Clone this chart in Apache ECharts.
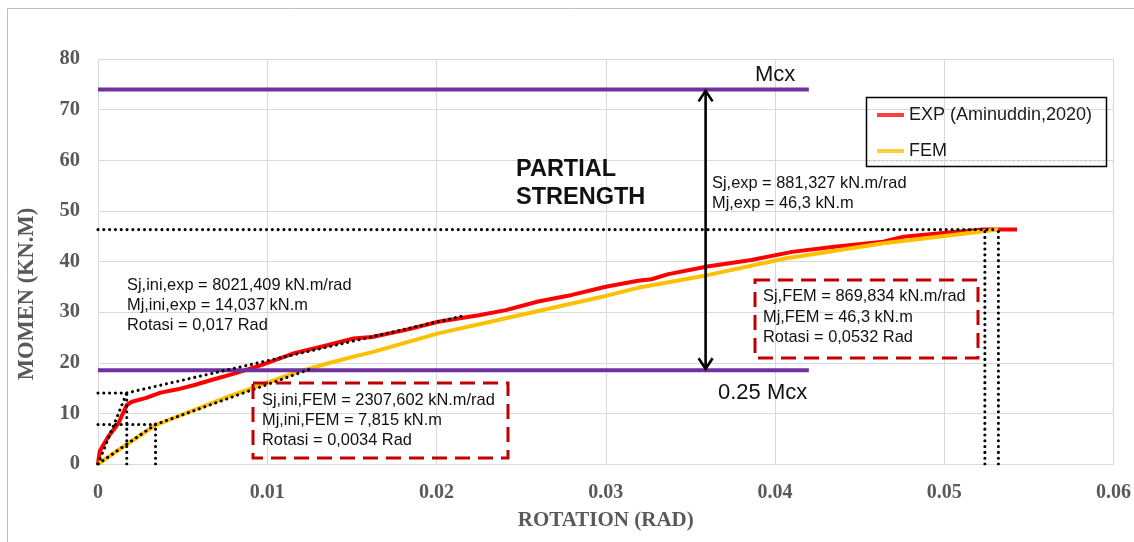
<!DOCTYPE html>
<html><head><meta charset="utf-8">
<script src="https://cdn.jsdelivr.net/npm/echarts@6/dist/echarts.min.js"></script>
<style>html,body{margin:0;padding:0;background:#fff}#c{width:1134px;height:542px}</style>
</head><body><div id="c"></div>
<script>
// ---- data ----
const expRot = [0, 0.0001, 0.0006, 0.0012, 0.0015, 0.0017, 0.002, 0.0028, 0.0037, 0.0047, 0.0057, 0.0067, 0.0081, 0.0096, 0.0116, 0.0136, 0.0151, 0.0162, 0.0182, 0.0201, 0.0225, 0.0241, 0.026, 0.028, 0.03, 0.0319, 0.0327, 0.0337, 0.036, 0.0386, 0.041, 0.0435, 0.0464, 0.0476, 0.0504, 0.0523, 0.0543];
const expMom = [0, 2.5, 5.4, 8.0, 10.2, 11.65, 12.3, 13.0, 14.1, 14.75, 15.6, 16.6, 17.9, 19.5, 21.9, 23.5, 24.8, 25.1, 26.5, 28.1, 29.4, 30.4, 32.1, 33.4, 35.0, 36.2, 36.5, 37.5, 39.0, 40.3, 41.9, 42.9, 43.9, 44.9, 45.8, 46.3, 46.3];
const femRot = [0, 0.0018, 0.0034, 0.0057, 0.0077, 0.0096, 0.0116, 0.0136, 0.0151, 0.0162, 0.0201, 0.0241, 0.028, 0.03, 0.0319, 0.036, 0.0406, 0.0464, 0.0504, 0.0532];
const femMom = [0, 4.1, 7.7, 10.67, 13.3, 15.6, 18.0, 19.9, 21.2, 22.1, 25.8, 28.8, 31.7, 33.2, 34.8, 37.3, 40.6, 43.6, 45.2, 46.3];
const mcxValue = 74;
const mcxQuarter = 18.5;
const mcxEndRot = 0.042;
const arrowRot = 0.0359;
// guide (dotted) lines: [rot1, mom1, rot2, mom2]
const guideLines = [
  [0, 46.3, 0.0532, 46.3],
  [0.0524, 0, 0.0524, 46.3],
  [0.0532, 0, 0.0532, 46.3],
  [0, 14.037, 0.0017, 14.037],
  [0.0017, 0, 0.0017, 14.037],
  [0, 7.815, 0.0034, 7.815],
  [0.0034, 0, 0.0034, 7.815],
  [0, 0, 0.0017, 14.037],
  [0.0017, 14.037, 0.0215, 29.2],
  [0, 0, 0.0034, 7.815],
  [0.0034, 7.815, 0.0125, 18.7]
];
const xTickLabels = ['0', '0.01', '0.02', '0.03', '0.04', '0.05', '0.06'];
const yTickLabels = ['0', '10', '20', '30', '40', '50', '60', '70', '80'];
const seriesNames = ['EXP (Aminuddin,2020)', 'FEM'];

const zip = (a, b) => a.map((v, i) => [v, b[i]]);
const SANS = 'Liberation Sans, Arial, sans-serif';
const SERIF = 'Liberation Serif, Times New Roman, serif';

const guideSeries = guideLines.map(g => ({
  type: 'line', silent: true, symbol: 'none', z: 5,
  data: [[g[0], g[1]], [g[2], g[3]]],
  lineStyle: { color: '#000', width: 3.1, type: [0.01, 5.8], cap: 'round' },
  tooltip: { show: false }
}));

function txt(text, x, y, size, opts) {
  return Object.assign({
    type: 'text', z: 50,
    style: { text: text, x: x, y: y, font: (opts && opts.weight ? opts.weight + ' ' : '') + size + 'px ' + SANS,
      fill: '#111', verticalAlign: 'middle', align: 'left' }
  }, opts && opts.extra ? opts.extra : {});
}

const chart = echarts.init(document.getElementById('c'), null, { renderer: 'canvas' });
chart.setOption({
  backgroundColor: '#fff',
  animation: false,
  grid: { left: 98, right: 17, top: 59, bottom: 78 },
  legend: {
    data: seriesNames, orient: 'vertical', left: 877, top: 105,
    itemWidth: 27, itemHeight: 4, itemGap: 16, icon: 'rect', padding: 0,
    textStyle: { fontFamily: SANS, fontSize: 18, color: '#1a1a1a', lineHeight: 20 }
  },
  xAxis: {
    type: 'value', min: 0, max: 0.06, interval: 0.01,
    name: 'ROTATION (RAD)', nameLocation: 'middle', nameGap: 46,
    nameTextStyle: { fontFamily: SERIF, fontWeight: 'bold', fontSize: 21, color: '#595959' },
    axisLine: { show: true, lineStyle: { color: '#D9D9D9', width: 1 } },
    axisTick: { show: false },
    splitLine: { show: true, lineStyle: { color: '#D9D9D9', width: 1 } },
    axisLabel: { margin: 19, fontFamily: SERIF, fontWeight: 'bold', fontSize: 20, color: '#595959',
      formatter: v => xTickLabels[Math.round(v / 0.01)] }
  },
  yAxis: {
    type: 'value', min: 0, max: 80, interval: 10,
    axisLine: { show: true, lineStyle: { color: '#D9D9D9', width: 1 } },
    axisTick: { show: false },
    splitLine: { show: true, lineStyle: { color: '#D9D9D9', width: 1 } },
    axisLabel: { margin: 18, fontFamily: SERIF, fontWeight: 'bold', fontSize: 20.5, color: '#595959',
      formatter: v => yTickLabels[Math.round(v / 10)] }
  },
  series: [
    { name: seriesNames[0], type: 'line', symbol: 'none', z: 2, data: zip(expRot, expMom),
      lineStyle: { color: '#FF0000', width: 4 }, itemStyle: { color: '#FF4040' } },
    { name: seriesNames[1], type: 'line', symbol: 'none', z: 3, data: zip(femRot, femMom),
      lineStyle: { color: '#FFC000', width: 4 }, itemStyle: { color: '#FFCC40' } },
    { type: 'line', symbol: 'none', z: 4, silent: true, data: [[0, mcxValue], [mcxEndRot, mcxValue]],
      lineStyle: { color: '#7030A0', width: 4 } },
    { type: 'line', symbol: 'none', z: 4, silent: true, data: [[0, mcxQuarter], [mcxEndRot, mcxQuarter]],
      lineStyle: { color: '#7030A0', width: 4 } },
    { type: 'custom', z: 6, silent: true, data: [[arrowRot, mcxValue, mcxQuarter]],
      encode: { x: 0, y: [1, 2] },
      renderItem: function (params, api) {
        const t = api.coord([api.value(0), api.value(1)]);
        const b = api.coord([api.value(0), api.value(2)]);
        const st = { stroke: '#000', lineWidth: 2.6, fill: null };
        return { type: 'group', children: [
          { type: 'line', shape: { x1: t[0], y1: t[1] + 1, x2: b[0], y2: b[1] - 1 }, style: st },
          { type: 'polyline', shape: { points: [[t[0] - 7, t[1] + 12], [t[0], t[1] + 1.5], [t[0] + 7, t[1] + 12]] }, style: st },
          { type: 'polyline', shape: { points: [[b[0] - 7, b[1] - 12], [b[0], b[1] - 1.5], [b[0] + 7, b[1] - 12]] }, style: st }
        ] };
      } }
  ].concat(guideSeries),
  graphic: [
    { type: 'rect', z: 0, silent: true, shape: { x: 7.5, y: 8.5, width: 1140, height: 540 },
      style: { stroke: '#BFBFBF', lineWidth: 1, fill: null } },
    { type: 'rect', z: 40, silent: true, shape: { x: 866.5, y: 97.5, width: 240, height: 69 },
      style: { stroke: '#000', lineWidth: 1.5, fill: null } },
    { type: 'line', z: 41, silent: true, shape: { x1: 869, y1: 161, x2: 1105, y2: 161 },
      style: { stroke: '#9DC3E6', lineWidth: 1, lineDash: [1.5, 3] } },
    { type: 'text', z: 50, x: 27, y: 294, rotation: Math.PI / 2,
      style: { text: 'MOMEN (KN.M)', font: 'bold 22.5px ' + SERIF, fill: '#595959', align: 'center', verticalAlign: 'middle' } },
    txt('Mcx', 755, 75, 22),
    txt('0.25 Mcx', 718, 393, 22),
    txt('PARTIAL', 516, 170, 23.5, { weight: 'bold' }),
    txt('STRENGTH', 516, 198, 23.5, { weight: 'bold' }),
    txt('Sj,exp = 881,327 kN.m/rad', 712, 183, 16.4),
    txt('Mj,exp = 46,3 kN.m', 712, 203, 16.4),
    txt('Sj,ini,exp = 8021,409 kN.m/rad', 127, 285, 16.4),
    txt('Mj,ini,exp = 14,037 kN.m', 127, 305, 16.4),
    txt('Rotasi = 0,017 Rad', 127, 325, 16.4),
    { type: 'rect', z: 30, silent: true, shape: { x: 253, y: 383, width: 255, height: 75 },
      style: { stroke: '#C00000', lineWidth: 3, lineDash: [15, 8], fill: null } },
    txt('Sj,ini,FEM = 2307,602 kN.m/rad', 262, 400, 16.4),
    txt('Mj,ini,FEM = 7,815 kN.m', 262, 420, 16.4),
    txt('Rotasi = 0,0034 Rad', 262, 440, 16.4),
    { type: 'rect', z: 30, silent: true, shape: { x: 755, y: 280, width: 223, height: 78 },
      style: { stroke: '#C00000', lineWidth: 3, lineDash: [15, 8], fill: null } },
    txt('Sj,FEM = 869,834 kN.m/rad', 763, 296, 16.4),
    txt('Mj,FEM = 46,3 kN.m', 763, 317, 16.4),
    txt('Rotasi = 0,0532 Rad', 763, 337, 16.4)
  ]
});
</script></body></html>
